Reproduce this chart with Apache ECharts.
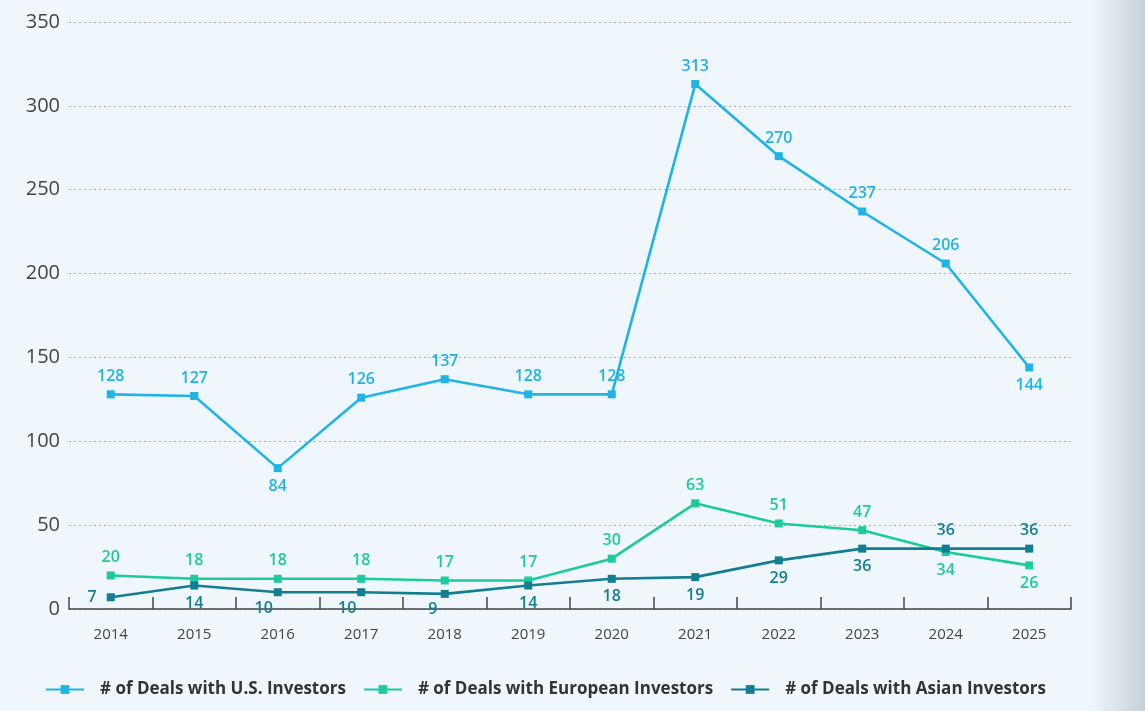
<!DOCTYPE html>
<html>
<head>
<meta charset="utf-8">
<script src="https://cdn.jsdelivr.net/npm/echarts@6/dist/echarts.min.js"></script>
<style>
html,body{margin:0;padding:0;width:1145px;height:715px;overflow:hidden;background:#fff;}
#wrap{position:absolute;left:0;top:0;width:1145px;height:711px;background:#eff7fd;}
#shade{position:absolute;left:1090px;top:0;width:55px;height:711px;background:linear-gradient(to right,rgba(239,247,253,0),#c6d0d8);}
#chart{position:absolute;left:0;top:0;width:1145px;height:715px;}
</style>
</head>
<body>
<div id="wrap"></div>
<div id="shade"></div>
<div id="chart"></div>
<script>
const years = ['2014','2015','2016','2017','2018','2019','2020','2021','2022','2023','2024','2025'];
const usDeals = [128,127,84,126,137,128,128,313,270,237,206,144];
const europeDeals = [20,18,18,18,17,17,30,63,51,47,34,26];
const asiaDeals = [7,14,10,10,9,14,18,19,29,36,36,36];
const seriesNames = ['# of Deals with U.S. Investors','# of Deals with European Investors','# of Deals with Asian Investors'];

const colors = ['#1fb3e6','#1ccb9c','#137e92'];

// label placement per point
const usPos = {2:'bottom',11:'bottom'};
const euPos = {10:'bottom',11:'bottom'};
const asiaPos = {0:'left',10:'top',11:'top'};
const asiaOffset = {0:[-4,0],2:[-14,-2],3:[-14,-2],4:[-12,-2]};

function build(vals, posMap, offMap){
  return vals.map((v,i)=>{
    const item = {value:v};
    const lab = {};
    if (posMap[i]) lab.position = posMap[i];
    if (offMap && offMap[i]) lab.offset = offMap[i];
    if (Object.keys(lab).length) item.label = lab;
    return item;
  });
}

const FONT = 'Open Sans';
const chart = echarts.init(document.getElementById('chart'));
const labelBase = {show:true, fontSize:16, fontWeight:600, fontFamily:FONT, distance:6};
chart.setOption({
  backgroundColor:'transparent',
  animation:false,
  textStyle:{fontFamily:FONT},
  grid:{left:69,right:74,top:22,bottom:106,containLabel:false},
  legend:{
    bottom:12,left:40,itemWidth:38,itemHeight:11,itemGap:17,
    textStyle:{fontSize:17,fontWeight:'bold',color:'#333',fontFamily:FONT,padding:[0,0,0,11]},
    data:seriesNames
  },
  xAxis:{
    type:'category',data:years,boundaryGap:true,
    axisLine:{lineStyle:{color:'#444',width:1.5}},
    axisTick:{show:true,inside:true,length:12,lineStyle:{color:'#444',width:1.5}},
    axisLabel:{fontSize:15,color:'#444',margin:18,fontFamily:FONT}
  },
  yAxis:{
    type:'value',min:0,max:350,interval:50,
    axisLine:{show:false},axisTick:{show:false},
    axisLabel:{fontSize:20,color:'#444',margin:9,fontFamily:FONT},
    splitLine:{lineStyle:{type:[2,3],color:'#aab0b5',width:1}}
  },
  series:[
    {name:seriesNames[0],type:'line',data:build(usDeals,usPos),
     symbol:'rect',symbolSize:8,lineStyle:{width:2.6,color:colors[0]},itemStyle:{color:colors[0]},
     label:Object.assign({},labelBase,{position:'top',color:colors[0]})},
    {name:seriesNames[1],type:'line',data:build(europeDeals,euPos),
     symbol:'rect',symbolSize:8,lineStyle:{width:2.6,color:colors[1]},itemStyle:{color:colors[1]},
     label:Object.assign({},labelBase,{position:'top',color:colors[1]})},
    {name:seriesNames[2],type:'line',data:build(asiaDeals,asiaPos,asiaOffset),
     symbol:'rect',symbolSize:8,lineStyle:{width:2.6,color:colors[2]},itemStyle:{color:colors[2]},
     label:Object.assign({},labelBase,{position:'bottom',color:colors[2]})}
  ]
});
</script>
</body>
</html>
